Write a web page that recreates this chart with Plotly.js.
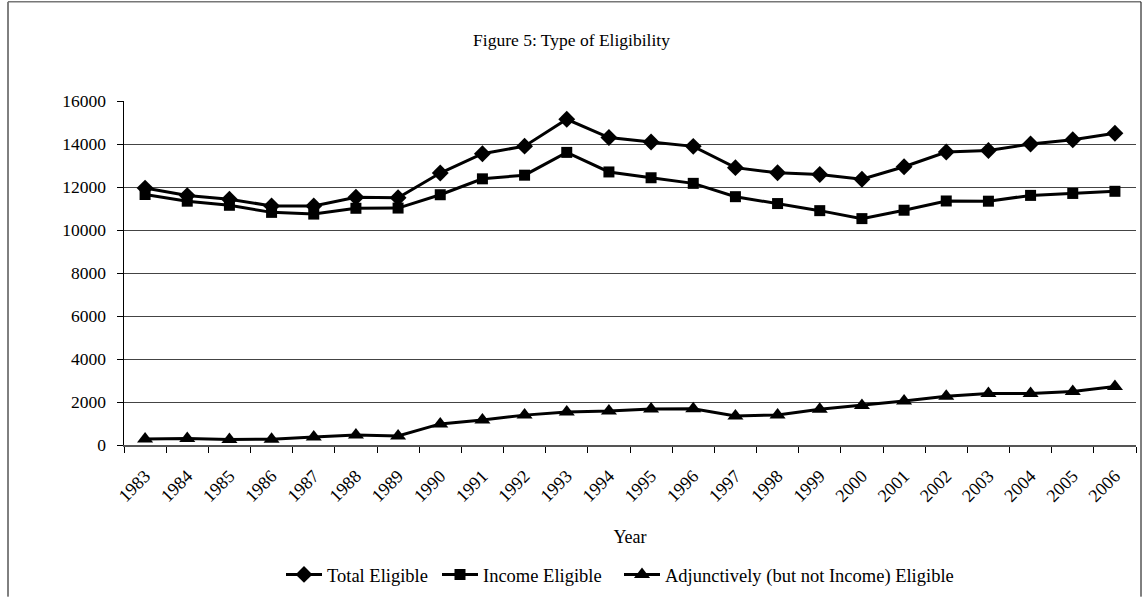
<!DOCTYPE html>
<html>
<head>
<meta charset="utf-8">
<script src="https://cdn.plot.ly/plotly-3.0.1.min.js"></script>
<style>html,body{margin:0;padding:0;background:#fff;}#chart{width:1143px;height:601px;}</style>
</head>
<body>
<div id="chart"></div>
<script>
const years = ['1983','1984','1985','1986','1987','1988','1989','1990','1991','1992','1993','1994','1995','1996','1997','1998','1999','2000','2001','2002','2003','2004','2005','2006'];
const totalEligible = [11950,11600,11430,11120,11120,11520,11500,12650,13550,13900,15150,14300,14090,13890,12900,12660,12580,12360,12940,13630,13700,14000,14200,14500];
const incomeEligible = [11650,11340,11150,10820,10740,11010,11020,11640,12380,12550,13610,12700,12430,12170,11550,11230,10900,10530,10920,11350,11340,11610,11700,11800];
const adjunctEligible = [280,300,260,270,370,460,420,980,1160,1390,1540,1580,1670,1690,1350,1400,1660,1840,2050,2270,2390,2400,2490,2720];

const FONT = 'Liberation Serif, Times New Roman, serif';
const lineStyle = {color:'#000', width:3};
const traces = [
  {x: years, y: totalEligible, name:'Total Eligible', legend:'legend', type:'scatter', mode:'lines+markers', line:lineStyle, marker:{symbol:'diamond', size:13, color:'#000'}},
  {x: years, y: incomeEligible, name:'Income Eligible', legend:'legend2', type:'scatter', mode:'lines+markers', line:lineStyle, marker:{symbol:'square', size:11, color:'#000'}},
  {x: years, y: adjunctEligible, name:'Adjunctively (but not Income) Eligible', legend:'legend3', type:'scatter', mode:'lines+markers', line:lineStyle, marker:{symbol:'triangle-up', size:14, color:'#000'}}
];

const L = 124, R = 7, T = 101, B = 153, W = 1143, H = 601;
const pw = W - L - R, ph = H - T - B;
const px = v => (v - L) / pw;
const py = v => (H - B - v) / ph;

const legendBase = {orientation: 'h', xanchor: 'left', y: py(579), yanchor: 'middle', font: {size: 18.5, family: FONT}, itemwidth: 36, bgcolor: 'rgba(0,0,0,0)'};

const layout = {
  width: W, height: H,
  margin: {l: L, r: R, t: T, b: B},
  paper_bgcolor: '#fff', plot_bgcolor: '#fff',
  font: {family: FONT, color: '#000', size: 18},
  title: {text: 'Figure 5: Type of Eligibility', x: 0.5, xanchor: 'center', y: 1 - 40/H, yanchor: 'middle', font: {size: 17.5, family: FONT}},
  showlegend: true,
  legend: Object.assign({}, legendBase, {x: px(281)}),
  legend2: Object.assign({}, legendBase, {x: px(437)}),
  legend3: Object.assign({}, legendBase, {x: px(619)}),
  xaxis: {
    type: 'category', range: [-0.5, 23.5], tickangle: -45, tickson: 'boundaries',
    ticks: 'outside', ticklen: 6, tickcolor: '#000', showgrid: false,
    showline: true, linecolor: '#555', linewidth: 1.5, zeroline: false,
    tickfont: {size: 18, family: FONT}, ticklabelstandoff: 12,
    title: {text: 'Year', font: {size: 18, family: FONT}, standoff: 25}
  },
  yaxis: {
    range: [0, 16000], dtick: 2000, tick0: 0, tickformat: 'd',
    ticks: 'outside', ticklen: 6, tickcolor: '#000',
    showgrid: true, gridcolor: '#444', gridwidth: 1,
    showline: true, linecolor: '#000', linewidth: 1.5, zeroline: false,
    tickfont: {size: 17.5, family: FONT}, ticklabelstandoff: 7, fixedrange: true
  },
  shapes: [
    {type: 'line', xref: 'paper', yref: 'paper', x0: px(8), x1: px(8), y0: py(1), y1: py(601), line: {color: '#000', width: 1}},
    {type: 'line', xref: 'paper', yref: 'paper', x0: px(8), x1: px(1141), y0: py(1), y1: py(1), line: {color: '#777', width: 1.5}},
    {type: 'line', xref: 'paper', yref: 'paper', x0: px(1141), x1: px(1141), y0: py(1), y1: py(601), line: {color: '#000', width: 1}}
  ]
};

Plotly.newPlot('chart', traces, layout, {displayModeBar: false, staticPlot: true});
</script>
</body>
</html>
